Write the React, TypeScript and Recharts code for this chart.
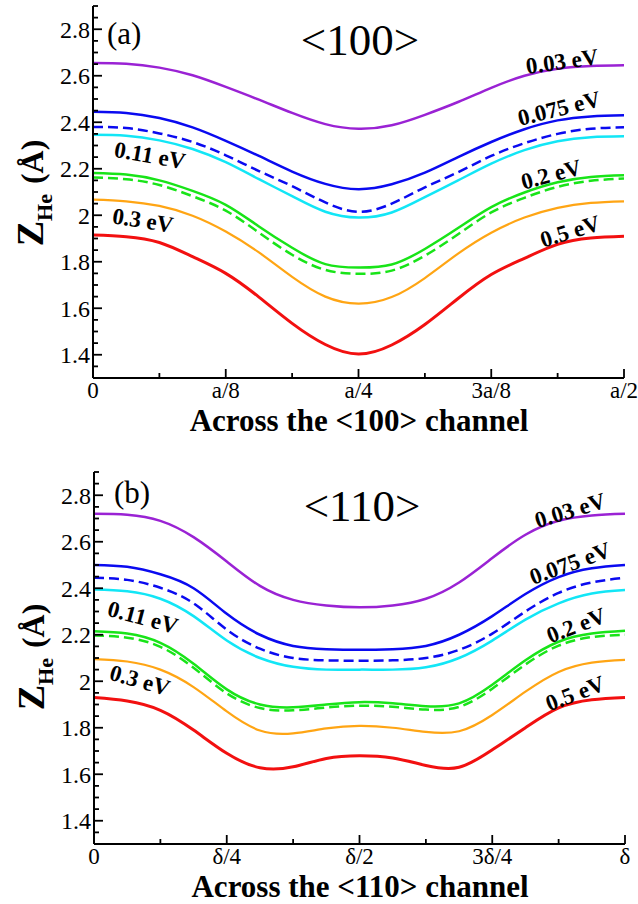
import React from 'react';
import { LineChart, Line, XAxis, YAxis } from 'recharts';

// ---------- Panel (a): across the <100> channel (x in units of a) ----------
const X100 = [0, 0.03125, 0.0625, 0.09375, 0.125, 0.15625, 0.1875, 0.21875, 0.25, 0.28125, 0.3125, 0.34375, 0.375, 0.40625, 0.4375, 0.46875, 0.5];
const A_E003 = [2.655, 2.652, 2.635, 2.602, 2.552, 2.497, 2.44, 2.392, 2.372, 2.387, 2.432, 2.487, 2.548, 2.6, 2.63, 2.642, 2.645];
const A_E0075 = [2.445, 2.44, 2.418, 2.378, 2.32, 2.255, 2.188, 2.135, 2.112, 2.133, 2.183, 2.25, 2.315, 2.37, 2.408, 2.425, 2.43];
const A_E0075D = [2.38, 2.375, 2.352, 2.315, 2.258, 2.19, 2.125, 2.055, 2.015, 2.05, 2.12, 2.185, 2.255, 2.31, 2.35, 2.372, 2.378];
const A_E011 = [2.346, 2.342, 2.322, 2.285, 2.228, 2.155, 2.082, 2.015, 1.99, 2.012, 2.078, 2.15, 2.222, 2.28, 2.318, 2.336, 2.34];
const A_E02 = [2.182, 2.175, 2.15, 2.105, 2.045, 1.952, 1.86, 1.79, 1.775, 1.788, 1.855, 1.945, 2.035, 2.098, 2.142, 2.165, 2.172];
const A_E02D = [2.162, 2.155, 2.13, 2.082, 2.02, 1.925, 1.83, 1.765, 1.748, 1.762, 1.826, 1.918, 2.012, 2.075, 2.122, 2.148, 2.158];
const A_E03 = [2.067, 2.06, 2.04, 1.998, 1.93, 1.84, 1.735, 1.65, 1.62, 1.648, 1.73, 1.835, 1.925, 1.99, 2.032, 2.053, 2.06];
const A_E05 = [1.915, 1.908, 1.883, 1.822, 1.75, 1.648, 1.535, 1.444, 1.403, 1.442, 1.53, 1.642, 1.745, 1.815, 1.875, 1.902, 1.91];

// ---------- Panel (b): across the <110> channel (x in units of delta) ----------
const X110 = [0, 0.0625, 0.125, 0.1875, 0.25, 0.3125, 0.375, 0.4375, 0.5, 0.5625, 0.625, 0.6875, 0.75, 0.8125, 0.875, 0.9375, 1];
const B_E003 = [2.72, 2.716, 2.69, 2.62, 2.515, 2.41, 2.35, 2.326, 2.318, 2.326, 2.355, 2.425, 2.53, 2.63, 2.69, 2.713, 2.72];
const B_E0075 = [2.5, 2.492, 2.46, 2.4, 2.29, 2.2, 2.152, 2.138, 2.135, 2.138, 2.152, 2.2, 2.28, 2.375, 2.448, 2.486, 2.5];
const B_E0075D = [2.445, 2.436, 2.402, 2.335, 2.222, 2.14, 2.1, 2.09, 2.088, 2.09, 2.1, 2.135, 2.205, 2.3, 2.38, 2.425, 2.445];
const B_E011 = [2.395, 2.387, 2.355, 2.28, 2.175, 2.1, 2.062, 2.05, 2.05, 2.05, 2.06, 2.1, 2.175, 2.265, 2.335, 2.377, 2.392];
const B_E02 = [2.215, 2.205, 2.165, 2.075, 1.965, 1.9, 1.888, 1.9, 1.91, 1.905, 1.893, 1.905, 1.985, 2.09, 2.17, 2.205, 2.217];
const B_E02D = [2.197, 2.187, 2.148, 2.058, 1.948, 1.885, 1.875, 1.887, 1.895, 1.89, 1.878, 1.89, 1.968, 2.072, 2.153, 2.19, 2.2];
const B_E03 = [2.095, 2.085, 2.05, 1.975, 1.87, 1.788, 1.776, 1.797, 1.808, 1.8, 1.782, 1.785, 1.855, 1.955, 2.04, 2.08, 2.092];
const B_E05 = [1.93, 1.915, 1.875, 1.79, 1.69, 1.628, 1.632, 1.668, 1.68, 1.67, 1.638, 1.63, 1.705, 1.8, 1.885, 1.92, 1.93];

// ---------- Ticks & labels ----------
const X100_TICKS = [0, 0.125, 0.25, 0.375, 0.5];
const X100_LABELS = ['0', 'a/8', 'a/4', '3a/8', 'a/2'];
const X110_TICKS = [0, 0.25, 0.5, 0.75, 1];
const X110_LABELS = ['0', 'δ/4', 'δ/2', '3δ/4', 'δ'];
const Y_TICKS = [1.4, 1.6, 1.8, 2.0, 2.2, 2.4, 2.6, 2.8];
const Y_LABELS = ['1.4', '1.6', '1.8', '2', '2.2', '2.4', '2.6', '2.8'];
const Y_DOMAIN = [1.3, 2.9];
const ENERGY_LABELS = ['0.03 eV', '0.075 eV', '0.11 eV', '0.2 eV', '0.3 eV', '0.5 eV'];

const SERIES_STYLE = [
  { key: 'e003', color: '#9a22d4', dash: undefined, w: 2.5 },
  { key: 'e0075', color: '#0a0af0', dash: undefined, w: 2.5 },
  { key: 'e0075d', color: '#0a0af0', dash: '10 5', w: 2.5 },
  { key: 'e011', color: '#12e6f6', dash: undefined, w: 2.5 },
  { key: 'e02', color: '#18e418', dash: undefined, w: 2.5 },
  { key: 'e02d', color: '#18e418', dash: '10 5', w: 2.5 },
  { key: 'e03', color: '#ffa514', dash: undefined, w: 2.2 },
  { key: 'e05', color: '#f21010', dash: undefined, w: 3 },
];

const FONT = '"Liberation Serif", "Times New Roman", serif';

const near = (a: number, b: number) => Math.abs(a - b) < 1e-6;

function withMinors(majors: number[], lo: number, hi: number, step: number) {
  const out: number[] = [];
  for (let v = lo; v <= hi + 1e-9; v += step) out.push(Math.round(v * 10000) / 10000);
  majors.forEach((m) => { if (!out.some((o) => near(o, m))) out.push(m); });
  return out.sort((a, b) => a - b);
}

function makeXTick(majors: number[], labels: string[], pos: 'bottom' | 'top') {
  return (p: any) => {
    const { x, y, payload } = p;
    const idx = majors.findIndex((m) => near(m, payload.value));
    const len = idx >= 0 ? 9 : 5;
    const sign = pos === 'bottom' ? -1 : 1;
    return (
      <g>
        <line x1={x} y1={y} x2={x} y2={y + sign * len} stroke="#000" strokeWidth={1.8} />
        {pos === 'bottom' && idx >= 0 ? (
          <text x={x} y={y + 20} textAnchor="middle" fontFamily={FONT} fontSize={23} fill="#000">{labels[idx]}</text>
        ) : null}
      </g>
    );
  };
}

function makeYTick(pos: 'left' | 'right') {
  return (p: any) => {
    const { x, y, payload } = p;
    const idx = Y_TICKS.findIndex((m) => near(m, payload.value));
    const len = idx >= 0 ? 9 : 5;
    const sign = pos === 'left' ? 1 : -1;
    return (
      <g>
        <line x1={x} y1={y} x2={x + sign * len} y2={y} stroke="#000" strokeWidth={1.8} />
        {pos === 'left' && idx >= 0 ? (
          <text x={x - 3} y={y} dy="0.35em" textAnchor="end" fontFamily={FONT} fontSize={24} fill="#000">{Y_LABELS[idx]}</text>
        ) : null}
      </g>
    );
  };
}

type PanelProps = {
  xs: number[];
  values: number[][];
  xMajors: number[];
  xLabels: string[];
  xMax: number;
  minorStep: number;
  top: number;
  left: number;
};

function Panel({ xs, values, xMajors, xLabels, xMax, minorStep, top, left }: PanelProps) {
  const data = xs.map((x, i) => {
    const o: any = { x };
    SERIES_STYLE.forEach((s, k) => { o[s.key] = values[k][i]; });
    return o;
  });
  const xTicks = withMinors(xMajors, 0, xMax, minorStep);
  const yTicks = withMinors(Y_TICKS, 1.3, 2.9, 0.05);
  const axisLine = { stroke: '#000', strokeWidth: 2 };
  return (
    <div style={{ position: 'absolute', top, left }}>
      <LineChart width={638} height={450} data={data} margin={{ top: 6, right: 14, bottom: 0, left: 0 }}>
        <XAxis dataKey="x" type="number" domain={[0, xMax]} ticks={xTicks} interval={0} tickSize={0} tickMargin={0}
          height={72} axisLine={axisLine} tickLine={false} tick={makeXTick(xMajors, xLabels, 'bottom')} />
        <XAxis xAxisId="top" orientation="top" dataKey="x" type="number" domain={[0, xMax]} ticks={xTicks} interval={0}
          tickSize={0} tickMargin={0} height={0} axisLine={axisLine} tickLine={false} tick={makeXTick(xMajors, xLabels, 'top')} />
        <YAxis type="number" domain={Y_DOMAIN} ticks={yTicks} interval={0} tickSize={0} tickMargin={0} width={93}
          axisLine={axisLine} tickLine={false} tick={makeYTick('left')} allowDataOverflow />
        <YAxis yAxisId="right" orientation="right" type="number" domain={Y_DOMAIN} ticks={yTicks} interval={0} tickSize={0}
          tickMargin={0} width={0} axisLine={axisLine} tickLine={false} tick={makeYTick('right')} allowDataOverflow />
        {SERIES_STYLE.map((s) => (
          <Line key={s.key} dataKey={s.key} type="natural" stroke={s.color} strokeWidth={s.w}
            strokeDasharray={s.dash} dot={false} activeDot={false} isAnimationActive={false} />
        ))}
      </LineChart>
    </div>
  );
}

type Lab = { i: number; x: number; y: number; r: number };
const LABELS_A: Lab[] = [
  { i: 0, x: 562, y: 61, r: -8 },
  { i: 1, x: 559, y: 108, r: -14 },
  { i: 2, x: 150, y: 155, r: 10 },
  { i: 3, x: 551, y: 174, r: -15 },
  { i: 4, x: 143, y: 220, r: 9 },
  { i: 5, x: 570, y: 231, r: -17 },
];
const LABELS_B: Lab[] = [
  { i: 0, x: 570, y: 510, r: -17 },
  { i: 1, x: 570, y: 563, r: -20 },
  { i: 2, x: 143, y: 617, r: 15 },
  { i: 3, x: 576, y: 625, r: -21 },
  { i: 4, x: 140, y: 680, r: 16 },
  { i: 5, x: 575, y: 693, r: -21 },
];

function YTitle({ cx, cy }: { cx: number; cy: number }) {
  return (
    <text transform="rotate(-90)" x={-cy} y={cx} textAnchor="middle" fontFamily={FONT} fontWeight="bold" fill="#000">
      <tspan fontSize={38}>Z</tspan>
      <tspan fontSize={22} dy={9}>He</tspan>
      <tspan fontSize={32} dy={-9} dx={10}>(Å)</tspan>
    </text>
  );
}

export default function App() {
  return (
    <div style={{ position: 'absolute', left: 0, top: 0, width: 638, height: 904, background: '#fff' }}>
      <Panel xs={X100} values={[A_E003, A_E0075, A_E0075D, A_E011, A_E02, A_E02D, A_E03, A_E05]}
        xMajors={X100_TICKS} xLabels={X100_LABELS} xMax={0.5} minorStep={0.0625} top={0} left={0} />
      <Panel xs={X110} values={[B_E003, B_E0075, B_E0075D, B_E011, B_E02, B_E02D, B_E03, B_E05]}
        xMajors={X110_TICKS} xLabels={X110_LABELS} xMax={1} minorStep={0.125} top={466} left={1} />
      <svg width={638} height={904} style={{ position: 'absolute', left: 0, top: 0, pointerEvents: 'none' }}>
        <text x={107} y={44} fontFamily={FONT} fontSize={31} fill="#000">(a)</text>
        <text x={360} y={55} textAnchor="middle" fontFamily={FONT} fontSize={45} fill="#000">{'<100>'}</text>
        <text x={114} y={503} fontFamily={FONT} fontSize={31} fill="#000">(b)</text>
        <text x={362} y={521} textAnchor="middle" fontFamily={FONT} fontSize={45} fill="#000">{'<110>'}</text>
        {[...LABELS_A, ...LABELS_B].map((l, k) => (
          <text key={k} x={l.x} y={l.y} dy="0.35em" textAnchor="middle" transform={`rotate(${l.r} ${l.x} ${l.y})`}
            fontFamily={FONT} fontWeight="bold" fontSize={23} fill="#000">{ENERGY_LABELS[l.i]}</text>
        ))}
        <YTitle cx={43} cy={193} />
        <YTitle cx={44} cy={657} />
        <text x={359} y={431} textAnchor="middle" fontFamily={FONT} fontWeight="bold" fontSize={31} fill="#000">Across the {'<100>'} channel</text>
        <text x={360} y={897} textAnchor="middle" fontFamily={FONT} fontWeight="bold" fontSize={31} fill="#000">Across the {'<110>'} channel</text>
      </svg>
    </div>
  );
}
